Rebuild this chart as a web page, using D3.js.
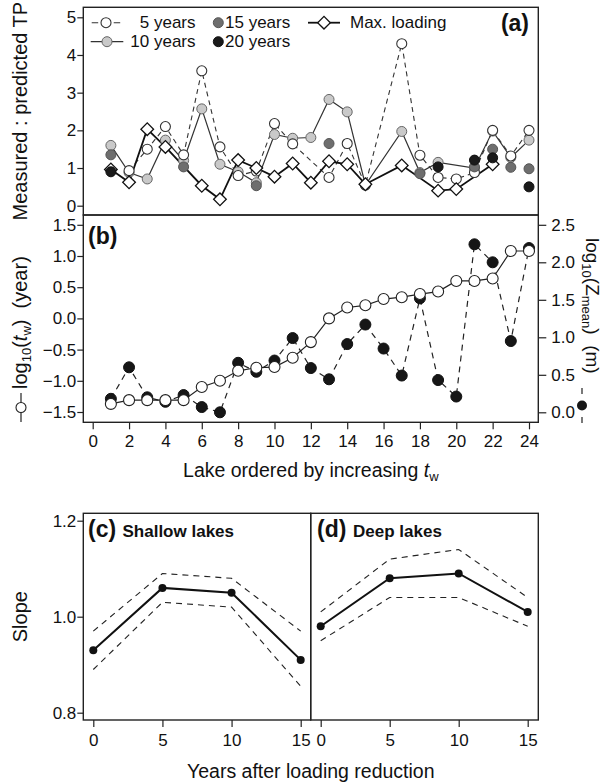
<!DOCTYPE html>
<html>
<head>
<meta charset="utf-8">
<script src="https://cdn.jsdelivr.net/npm/d3@7/dist/d3.min.js"></script>
<style>
  body { margin: 0; background: #fff; }
  text { font-family: "Liberation Sans", Arial, sans-serif; fill: #111; }
</style>
</head>
<body>
<div id="chart"></div>
<script>

// DATA

var lakes = d3.range(1, 25);

// panel (a): measured : predicted TP, null = no value
var yrs5  = [null, 0.93, 1.5, 2.1, 1.35, 3.58, 1.56, 0.8, 0.92, 2.18, 1.64, null, 0.75, 1.65, 0.55, null, 4.3, 1.34, 0.75, 0.71, 0.88, 2.0, 1.32, 2.0];
var yrs10 = [1.6, 0.88, 0.71, 1.74, 1.2, 2.57, 1.1, 0.9, 0.61, 1.89, 1.79, 1.81, 2.82, 2.49, 0.55, null, 1.97, 0.88, 1.15, null, 1.0, 1.98, 1.28, 1.74];
var yrs15 = [1.35, null, null, null, 1.03, null, null, null, 0.53, null, null, null, 1.65, null, null, null, null, 0.85, null, null, 1.03, 1.5, 1.02, 0.98];
var yrs20 = [0.9, null, null, null, null, null, null, null, null, null, null, null, null, null, null, null, null, null, 1.03, null, 1.21, 1.27, null, 0.5];
var maxLoad = [0.96, 0.62, 2.03, 1.56, null, 0.53, 0.17, 1.21, 1.0, 0.77, 1.12, 0.61, 1.18, 1.1, 0.57, null, 1.07, null, 0.4, 0.44, null, 1.1, null, null];

// panel (b)
var logTw    = [-1.37, -1.31, -1.31, -1.31, -1.31, -1.10, -1.0, -0.84, -0.79, -0.78, -0.63, -0.38, 0.0, 0.175, 0.21, 0.31, 0.34, 0.39, 0.43, 0.60, 0.60, 0.64, 1.08, 1.08];
var logZmean = [0.18, 0.60, 0.20, 0.14, 0.23, 0.07, 0.0, 0.66, 0.54, 0.69, 0.99, 0.59, 0.44, 0.91, 1.17, 0.85, 0.49, 1.52, 0.43, 0.21, 2.24, 2.0, 0.95, 2.19];

// panels (c), (d)
var years = [0, 5, 10, 15];
var shallowSlope = [0.93, 1.06, 1.05, 0.91];
var shallowUpper = [0.97, 1.09, 1.08, 0.97];
var shallowLower = [0.89, 1.03, 1.02, 0.855];
var deepSlope = [0.98, 1.08, 1.09, 1.01];
var deepUpper = [1.01, 1.12, 1.14, 1.04];
var deepLower = [0.95, 1.04, 1.04, 0.98];

var tickA  = [0, 1, 2, 3, 4, 5];
var tickBL = [-1.5, -1.0, -0.5, 0.0, 0.5, 1.0, 1.5];
var tickBR = [0.0, 0.5, 1.0, 1.5, 2.0, 2.5];
var tickLake = d3.range(0, 25, 2);
var tickCD = [0.8, 1.0, 1.2];

// LAYOUT

var W = 605, H = 783;
var L = 83.3, R = 538.3;
var topA = 7.3, midAB = 215, botB = 422.3;
var topC = 513.3, botC = 720, midCD = 310.7;

var svg = d3.select('#chart').append('svg')
  .attr('width', W).attr('height', H);

var x = d3.scaleLinear().domain([0, 24]).range([92.7, 529]);
var yA = d3.scaleLinear().domain([0, 5]).range([205.7, 17.3]);
var yBL = d3.scaleLinear().domain([-1.5, 1.5]).range([412, 224.8]);
var yBR = d3.scaleLinear().domain([0, 2.5]).range([412.3, 224.8]);
var yCD = d3.scaleLinear().domain([0.8, 1.2]).range([712.7, 520.7]);
var xC = d3.scaleLinear().domain([0, 15]).range([93.3, 300.7]);
var xD = d3.scaleLinear().domain([0, 15]).range([320.7, 527.7]);

var fmtMinus = function(d) { return d3.format('.1f')(d).replace('-', '\u2212'); };

function pts(vals) {
  return vals.map(function(v, i) { return { lake: lakes[i], v: v }; })
    .filter(function(d) { return d.v != null; });
}

function lineFor(ys, xs) {
  return d3.line().x(function(d) { return xs(d.lake); }).y(function(d) { return ys(d.v); });
}

function boxRect(x0, y0, x1, y1) {
  svg.append('rect')
    .attr('x', x0).attr('y', y0).attr('width', x1 - x0).attr('height', y1 - y0)
    .attr('fill', 'none').attr('stroke', '#222').attr('stroke-width', 1.4);
}

function styleAxis(g, size) {
  g.select('.domain').remove();
  g.selectAll('line').attr('stroke', '#222').attr('stroke-width', 1.2);
  g.selectAll('text').attr('font-size', size || 17).attr('fill', '#111')
    .attr('font-family', '"Liberation Sans", Arial, sans-serif');
}

// PANEL (a)

var gA = svg.append('g');

gA.append('path').datum(pts(yrs10))
  .attr('d', lineFor(yA, x)).attr('fill', 'none')
  .attr('stroke', '#333').attr('stroke-width', 1.2);

gA.append('path').datum(pts(yrs5))
  .attr('d', lineFor(yA, x)).attr('fill', 'none')
  .attr('stroke', '#333').attr('stroke-width', 1.1).attr('stroke-dasharray', '5,4');

gA.append('path').datum(pts(maxLoad))
  .attr('d', lineFor(yA, x)).attr('fill', 'none')
  .attr('stroke', '#111').attr('stroke-width', 1.8);

gA.selectAll('circle.y10').data(pts(yrs10)).enter().append('circle')
  .attr('class', 'y10')
  .attr('cx', function(d) { return x(d.lake); }).attr('cy', function(d) { return yA(d.v); })
  .attr('r', 5).attr('fill', '#c9c9c9').attr('stroke', '#666').attr('stroke-width', 1);

gA.selectAll('circle.y5').data(pts(yrs5)).enter().append('circle')
  .attr('class', 'y5')
  .attr('cx', function(d) { return x(d.lake); }).attr('cy', function(d) { return yA(d.v); })
  .attr('r', 5).attr('fill', '#fff').attr('stroke', '#333').attr('stroke-width', 1.1);

var diamond = d3.symbol().type(d3.symbolSquare).size(80);

gA.selectAll('path.maxl').data(pts(maxLoad)).enter().append('path')
  .attr('class', 'maxl')
  .attr('d', diamond)
  .attr('transform', function(d) { return 'translate(' + x(d.lake) + ',' + yA(d.v) + ') rotate(45)'; })
  .attr('fill', '#fff').attr('stroke', '#111').attr('stroke-width', 1.3);

gA.selectAll('circle.y15').data(pts(yrs15)).enter().append('circle')
  .attr('class', 'y15')
  .attr('cx', function(d) { return x(d.lake); }).attr('cy', function(d) { return yA(d.v); })
  .attr('r', 5).attr('fill', '#6e6e6e').attr('stroke', '#555').attr('stroke-width', 1);

gA.selectAll('circle.y20').data(pts(yrs20)).enter().append('circle')
  .attr('class', 'y20')
  .attr('cx', function(d) { return x(d.lake); }).attr('cy', function(d) { return yA(d.v); })
  .attr('r', 5).attr('fill', '#1a1a1a').attr('stroke', '#111').attr('stroke-width', 1);

var axA = gA.append('g').attr('transform', 'translate(' + L + ',0)')
  .call(d3.axisLeft(yA).tickValues(tickA).tickSize(6).tickPadding(1).tickFormat(d3.format('d')));
styleAxis(axA);

// legend
var leg = gA.append('g');
var r1 = 22.7, r2 = 41.7;
leg.append('line').attr('x1', 91.7).attr('x2', 120.5).attr('y1', r1).attr('y2', r1)
  .attr('stroke', '#333').attr('stroke-width', 1.1).attr('stroke-dasharray', '6.5,15.5');
leg.append('circle').attr('cx', 106).attr('cy', r1).attr('r', 5)
  .attr('fill', '#fff').attr('stroke', '#333').attr('stroke-width', 1.1);
leg.append('line').attr('x1', 90.7).attr('x2', 123.3).attr('y1', r2).attr('y2', r2)
  .attr('stroke', '#333').attr('stroke-width', 1.2);
leg.append('circle').attr('cx', 107).attr('cy', r2).attr('r', 5)
  .attr('fill', '#c9c9c9').attr('stroke', '#666').attr('stroke-width', 1);
leg.append('circle').attr('cx', 218.3).attr('cy', r1).attr('r', 5)
  .attr('fill', '#6e6e6e').attr('stroke', '#555');
leg.append('circle').attr('cx', 218.3).attr('cy', r2).attr('r', 5)
  .attr('fill', '#1a1a1a').attr('stroke', '#111');
leg.append('line').attr('x1', 308).attr('x2', 340).attr('y1', r1).attr('y2', r1)
  .attr('stroke', '#111').attr('stroke-width', 1.8);
leg.append('path').attr('d', diamond)
  .attr('transform', 'translate(324,' + r1 + ') rotate(45)')
  .attr('fill', '#fff').attr('stroke', '#111').attr('stroke-width', 1.3);

var legText = [
  { t: '5 years', x: 195.5, y: r1, a: 'end' },
  { t: '10 years', x: 195.5, y: r2, a: 'end' },
  { t: '15 years', x: 225, y: r1, a: 'start' },
  { t: '20 years', x: 225, y: r2, a: 'start' },
  { t: 'Max. loading', x: 350, y: r1, a: 'start' }
];
leg.selectAll('text').data(legText).enter().append('text')
  .attr('x', function(d) { return d.x; }).attr('y', function(d) { return d.y + 5.5; })
  .attr('text-anchor', function(d) { return d.a; })
  .attr('font-size', 17).text(function(d) { return d.t; });

svg.append('text').attr('x', 529).attr('y', 30.5).attr('text-anchor', 'end')
  .attr('font-size', 23).attr('font-weight', 'bold').text('(a)');

svg.append('text')
  .attr('transform', 'translate(27,' + ((topA + midAB) / 2) + ') rotate(-90)')
  .attr('text-anchor', 'middle').attr('font-size', 20)
  .text('Measured : predicted TP');

boxRect(L, topA, R, midAB);

// PANEL (b)

var gB = svg.append('g');

gB.append('path').datum(pts(logZmean))
  .attr('d', lineFor(yBR, x)).attr('fill', 'none')
  .attr('stroke', '#222').attr('stroke-width', 1.2).attr('stroke-dasharray', '6,5');

gB.append('path').datum(pts(logTw))
  .attr('d', lineFor(yBL, x)).attr('fill', 'none')
  .attr('stroke', '#222').attr('stroke-width', 1.2);

gB.selectAll('circle.zm').data(pts(logZmean)).enter().append('circle')
  .attr('class', 'zm')
  .attr('cx', function(d) { return x(d.lake); }).attr('cy', function(d) { return yBR(d.v); })
  .attr('r', 5.5).attr('fill', '#161616').attr('stroke', '#111');

gB.selectAll('circle.tw').data(pts(logTw)).enter().append('circle')
  .attr('class', 'tw')
  .attr('cx', function(d) { return x(d.lake); }).attr('cy', function(d) { return yBL(d.v); })
  .attr('r', 5.5).attr('fill', '#fff').attr('stroke', '#222').attr('stroke-width', 1.1);

var axBL = gB.append('g').attr('transform', 'translate(' + L + ',0)')
  .call(d3.axisLeft(yBL).tickValues(tickBL).tickSize(6).tickPadding(1).tickFormat(fmtMinus));
styleAxis(axBL);

var axBR = gB.append('g').attr('transform', 'translate(' + R + ',0)')
  .call(d3.axisRight(yBR).tickValues(tickBR).tickSize(8).tickPadding(5).tickFormat(d3.format('.1f')));
styleAxis(axBR);

var axBX = gB.append('g').attr('transform', 'translate(0,' + botB + ')')
  .call(d3.axisBottom(x).tickValues(tickLake).tickSize(7).tickPadding(6).tickFormat(d3.format('d')));
styleAxis(axBX);

svg.append('text').attr('x', 88).attr('y', 244).attr('font-size', 23)
  .attr('font-weight', 'bold').text('(b)');

// left label with symbol
var sl = svg.append('g');
sl.append('line').attr('x1', 21).attr('x2', 21).attr('y1', 393).attr('y2', 422)
  .attr('stroke', '#222').attr('stroke-width', 1.2);
sl.append('circle').attr('cx', 21).attr('cy', 407.5).attr('r', 5)
  .attr('fill', '#fff').attr('stroke', '#222').attr('stroke-width', 1.1);
var tl = sl.append('text').attr('transform', 'translate(27,389) rotate(-90)')
  .attr('font-size', 20);
tl.append('tspan').text('log');
tl.append('tspan').attr('dy', 4).attr('font-size', 13).text('10');
tl.append('tspan').attr('dy', -4).text('(');
tl.append('tspan').attr('font-style', 'italic').text('t');
tl.append('tspan').attr('dy', 4).attr('font-size', 13).text('w');
tl.append('tspan').attr('dy', -4).text(')\u00a0\u00a0(year)');

// right label with symbol
var sr = svg.append('g');
sr.append('line').attr('x1', 582).attr('x2', 582).attr('y1', 388).attr('y2', 423)
  .attr('stroke', '#222').attr('stroke-width', 1.2).attr('stroke-dasharray', '6,23');
sr.append('circle').attr('cx', 582).attr('cy', 405.5).attr('r', 5).attr('fill', '#161616');
var tr = sr.append('text').attr('transform', 'translate(586,238) rotate(90)')
  .attr('font-size', 19);
tr.append('tspan').text('log');
tr.append('tspan').attr('dy', 4).attr('font-size', 13).text('10');
tr.append('tspan').attr('dy', -4).text('(Z');
tr.append('tspan').attr('dy', 4).attr('font-size', 13).text('mean');
tr.append('tspan').attr('dy', -4).text(')\u00a0\u00a0(m)');

var xt = svg.append('text').attr('x', (L + R) / 2).attr('y', 476.5)
  .attr('text-anchor', 'middle').attr('font-size', 19.5);
xt.append('tspan').text('Lake ordered by increasing ');
xt.append('tspan').attr('font-style', 'italic').text('t');
xt.append('tspan').attr('dy', 4).attr('font-size', 13).text('w');

boxRect(L, midAB, R, botB);

// PANELS (c), (d)

function slopePanel(xs, mid, up, lo, x0, x1, label, title, lx, tx) {
  var g = svg.append('g');
  var ln = d3.line().x(function(d, i) { return xs(years[i]); }).y(function(d) { return yCD(d); });
  [up, lo].forEach(function(s) {
    g.append('path').datum(s).attr('d', ln).attr('fill', 'none')
      .attr('stroke', '#222').attr('stroke-width', 1.1).attr('stroke-dasharray', '6,5');
  });
  g.append('path').datum(mid).attr('d', ln).attr('fill', 'none')
    .attr('stroke', '#111').attr('stroke-width', 2);
  g.selectAll('circle').data(mid).enter().append('circle')
    .attr('cx', function(d, i) { return xs(years[i]); }).attr('cy', function(d) { return yCD(d); })
    .attr('r', 4).attr('fill', '#111');
  var ax = g.append('g').attr('transform', 'translate(0,' + botC + ')')
    .call(d3.axisBottom(xs).tickValues(years).tickSize(7).tickPadding(7).tickFormat(d3.format('d')));
  styleAxis(ax);
  g.append('text').attr('x', lx).attr('y', 536.8).attr('font-size', 23)
    .attr('font-weight', 'bold').text(label);
  g.append('text').attr('x', tx).attr('y', 536.5).attr('font-size', 17)
    .attr('font-weight', 'bold').text(title);
  boxRect(x0, topC, x1, botC);
}

slopePanel(xC, shallowSlope, shallowUpper, shallowLower, L, midCD, '(c)', 'Shallow lakes', 88, 122.5);
slopePanel(xD, deepSlope, deepUpper, deepLower, midCD, R, '(d)', 'Deep lakes', 317, 353);

var axC = svg.append('g').attr('transform', 'translate(' + L + ',0)')
  .call(d3.axisLeft(yCD).tickValues(tickCD).tickSize(6).tickPadding(1).tickFormat(d3.format('.1f')));
styleAxis(axC);

svg.append('text')
  .attr('transform', 'translate(27,' + ((topC + botC) / 2) + ') rotate(-90)')
  .attr('text-anchor', 'middle').attr('font-size', 20).text('Slope');

svg.append('text').attr('x', (L + R) / 2).attr('y', 778)
  .attr('text-anchor', 'middle').attr('font-size', 19.5).text('Years after loading reduction');

</script>
</body>
</html>
